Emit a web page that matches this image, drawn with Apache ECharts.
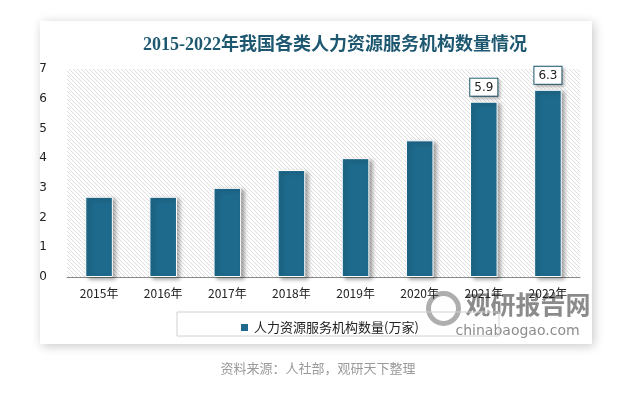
<!DOCTYPE html>
<html>
<head>
<meta charset="utf-8">
<script src="https://cdn.jsdelivr.net/npm/echarts@6/dist/echarts.min.js"></script>
<style>
  html, body { margin: 0; padding: 0; background: #fff; }
  #main { width: 636px; height: 398px; }
</style>
</head>
<body>
<div id="main"></div>
<script>
var years = ['2015年', '2016年', '2017年', '2018年', '2019年', '2020年', '2021年', '2022年']
var counts = [2.7, 2.7, 3.0, 3.6, 4.0, 4.6, 5.9, 6.3]
var labelled = ['2021年', '2022年']
var seriesName = '人力资源服务机构数量(万家)'

// 斜线底纹（左上到右下）
var hatch = document.createElement('canvas')
hatch.width = 4
hatch.height = 4
var hc = hatch.getContext('2d')
hc.fillStyle = '#ffffff'
hc.fillRect(0, 0, 4, 4)
hc.strokeStyle = '#d6d6d6'
hc.lineWidth = 0.8
hc.beginPath()
hc.moveTo(0, 0)
hc.lineTo(4, 4)
hc.moveTo(-1, 3)
hc.lineTo(1, 5)
hc.moveTo(3, -1)
hc.lineTo(5, 1)
hc.stroke()

var chart = echarts.init(document.getElementById('main'))
var option = {
  backgroundColor: '#fff',
  animation: false,
  graphic: [
    {
      type: 'rect',
      z: -10,
      shape: { x: 40, y: 21, width: 552, height: 323 },
      style: {
        fill: '#fff',
        shadowBlur: 10,
        shadowColor: 'rgba(0,0,0,0.22)',
        shadowOffsetX: 2,
        shadowOffsetY: 2
      }
    },
    {
      type: 'rect',
      z: 1,
      shape: { x: 177, y: 312, width: 322, height: 24 },
      style: { fill: 'none', stroke: '#d0d0d0', lineWidth: 1 }
    },
    {
      type: 'text',
      left: 'center',
      top: 362,
      style: {
        text: '资料来源：人社部，观研天下整理',
        fill: '#9a9a9a',
        font: '13px "Noto Sans CJK SC"'
      }
    },
    {
      type: 'group',
      left: 426,
      top: 291,
      z: 20,
      children: [
        {
          type: 'circle',
          shape: { cx: 18, cy: 18, r: 15 },
          style: { fill: 'none', stroke: 'rgba(140,140,140,0.7)', lineWidth: 5 }
        },
        {
          type: 'text',
          style: {
            x: 40, y: 1,
            text: '观研报告网',
            fill: 'rgba(110,110,110,0.8)',
            font: 'bold 25px "Noto Sans CJK SC"'
          }
        },
        {
          type: 'text',
          style: {
            x: 30, y: 34,
            text: 'chinabaogao.com',
            fill: 'rgba(110,110,110,0.8)',
            font: '14px "DejaVu Sans"'
          }
        }
      ]
    }
  ],
  title: {
    text: '2015-2022年我国各类人力资源服务机构数量情况',
    left: 138,
    top: 31,
    textStyle: {
      color: '#1d5870',
      fontSize: 18,
      fontWeight: 'bold',
      fontFamily: '"Liberation Serif", "Noto Sans CJK SC"'
    }
  },
  legend: {
    data: [seriesName],
    left: 234,
    top: 316,
    itemWidth: 9,
    itemHeight: 9,
    itemGap: 6,
    icon: 'rect',
    textStyle: { color: '#222', fontSize: 13, fontFamily: 'Noto Sans CJK SC' }
  },
  grid: {
    left: 67,
    right: 56,
    top: 69,
    bottom: 121,
    show: true,
    borderWidth: 0,
    backgroundColor: { image: hatch, repeat: 'repeat' }
  },
  xAxis: {
    type: 'category',
    data: years,
    axisTick: { show: false },
    axisLine: { lineStyle: { color: '#888' } },
    axisLabel: { color: '#222', fontSize: 12, margin: 10, fontFamily: 'Noto Sans CJK SC' }
  },
  yAxis: {
    type: 'value',
    min: 0,
    max: 7,
    interval: 1,
    splitLine: { show: false },
    axisLine: { show: false },
    axisTick: { show: false },
    axisLabel: { color: '#222', fontSize: 12, margin: 20, fontFamily: 'DejaVu Sans' }
  },
  series: [
    {
      name: seriesName,
      type: 'bar',
      barWidth: '43%',
      data: counts.map(function (v, i) {
        return {
          value: v,
          label: { show: labelled.indexOf(years[i]) >= 0 }
        }
      }),
      itemStyle: {
        color: '#1e6a8c',
        borderColor: '#fff',
        borderWidth: 1,
        shadowColor: 'rgba(0,0,0,0.35)',
        shadowBlur: 4,
        shadowOffsetX: 3,
        shadowOffsetY: 2
      },
      label: {
        position: 'top',
        distance: 6,
        color: '#222',
        fontSize: 12,
        fontFamily: 'DejaVu Sans',
        backgroundColor: '#fff',
        borderColor: '#1e5a72',
        borderWidth: 1,
        padding: [3, 4, 2, 4],
        shadowColor: 'rgba(0,0,0,0.25)',
        shadowBlur: 3,
        shadowOffsetX: 2,
        shadowOffsetY: 2
      }
    }
  ]
}
chart.setOption(option)
</script>
</body>
</html>
